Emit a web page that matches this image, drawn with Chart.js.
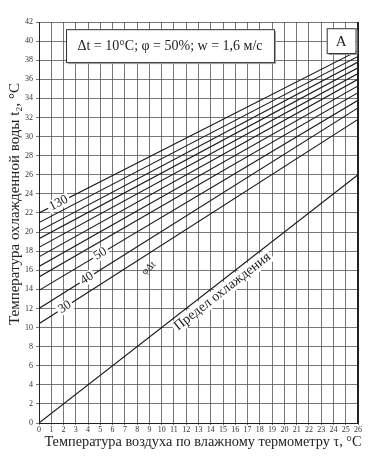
<!DOCTYPE html>
<html>
<head>
<meta charset="utf-8">
<script src="https://cdn.jsdelivr.net/npm/chart.js@4.4.1/dist/chart.umd.min.js"></script>
<style>
  html, body { margin: 0; padding: 0; background: #fff; }
</style>
</head>
<body>
<canvas id="myChart" width="377" height="469"></canvas>
<script>
// phi*dt curves: value of t2 at tau = 0 and at tau = 26
var curveNames = [30, 40, 50, 60, 70, 80, 90, 100, 110, 120, 130];
var curveStart = [10.4, 12.0, 13.9, 15.3, 16.4, 17.4, 18.4, 19.3, 20.1, 21.0, 22.0];
var curveEnd = [31.8, 33.0, 33.8, 34.6, 35.3, 36.0, 36.6, 37.2, 37.8, 38.4, 39.0];
var tauRange = [0, 26];
// cooling limit t2 = tau
var limitValues = [0, 26];
var xTicks = [0, 26, 1];
var yTicks = [0, 42, 2];

var serif = '"Liberation Serif", "DejaVu Serif", serif';

var datasets = curveNames.map(function (name, i) {
    return {
        label: String(name),
        data: [{x: tauRange[0], y: curveStart[i]}, {x: tauRange[1], y: curveEnd[i]}],
        borderColor: "#1a1a1a",
        borderWidth: 1.1,
        pointRadius: 0
    };
});
datasets.push({
    label: "Предел охлаждения",
    data: [{x: tauRange[0], y: limitValues[0]}, {x: tauRange[1], y: limitValues[1]}],
    borderColor: "#1a1a1a",
    borderWidth: 1.1,
    pointRadius: 0
});

function valueAt(i, x) {
    return curveStart[i] + (curveEnd[i] - curveStart[i]) * (x - tauRange[0]) / (tauRange[1] - tauRange[0]);
}

// where the curve numbers sit along tau
var curveLabels = [
    {index: 0, x: 2.1},
    {index: 1, x: 3.9},
    {index: 2, x: 5.0},
    {index: 10, x: 1.6}
];

function labelOnLine(ctx, text, px, py, angle, font) {
    ctx.save();
    ctx.translate(px, py);
    ctx.rotate(angle);
    ctx.font = font;
    var w = ctx.measureText(text).width;
    ctx.fillStyle = "#fff";
    ctx.fillRect(-w / 2 - 2, -6, w + 4, 12);
    ctx.fillStyle = "#222";
    ctx.textAlign = "center";
    ctx.textBaseline = "middle";
    ctx.fillText(text, 0, 0);
    ctx.restore();
}

var annotations = {
    id: "annotations",
    afterDatasetsDraw: function (chart) {
        var ctx = chart.ctx;
        var xs = chart.scales.x, ys = chart.scales.y;
        var area = chart.chartArea;

        // thicker right frame
        ctx.save();
        ctx.strokeStyle = "#222";
        ctx.lineWidth = 2;
        ctx.beginPath();
        ctx.moveTo(area.right, area.top);
        ctx.lineTo(area.right, area.bottom);
        ctx.stroke();
        ctx.restore();

        // curve numbers
        curveLabels.forEach(function (l) {
            var i = l.index;
            var px = xs.getPixelForValue(l.x);
            var py = ys.getPixelForValue(valueAt(i, l.x));
            var dx = xs.getPixelForValue(tauRange[1]) - xs.getPixelForValue(tauRange[0]);
            var dy = ys.getPixelForValue(curveEnd[i]) - ys.getPixelForValue(curveStart[i]);
            labelOnLine(ctx, String(curveNames[i]), px, py, Math.atan2(dy, dx), "13px " + serif);
        });

        // phi dt label
        ctx.save();
        ctx.translate(xs.getPixelForValue(8.95), ys.getPixelForValue(16.2));
        ctx.rotate(-0.75);
        ctx.font = "10px " + serif;
        ctx.fillStyle = "#222";
        ctx.textAlign = "center";
        ctx.textBaseline = "middle";
        ctx.fillText("φΔt", 0, 0);
        ctx.restore();

        // cooling limit label, just under its line
        var lx = 14.5;
        var ldx = xs.getPixelForValue(tauRange[1]) - xs.getPixelForValue(tauRange[0]);
        var ldy = ys.getPixelForValue(limitValues[1]) - ys.getPixelForValue(limitValues[0]);
        var ang = Math.atan2(ldy, ldx);
        var cx = xs.getPixelForValue(lx) - 9 * Math.sin(ang);
        var cy = ys.getPixelForValue(lx) + 9 * Math.cos(ang);
        ctx.save();
        ctx.translate(cx, cy);
        ctx.rotate(ang);
        ctx.font = "14px " + serif;
        var tw = ctx.measureText("Предел охлаждения").width;
        ctx.fillStyle = "#fff";
        ctx.fillRect(-tw / 2 - 2, -7, tw + 4, 14);
        ctx.fillStyle = "#222";
        ctx.textAlign = "center";
        ctx.textBaseline = "middle";
        ctx.fillText("Предел охлаждения", 0, 0);
        ctx.restore();

        // condition boxes
        function box(x0, y0, x1, y1, text, font) {
            var l = xs.getPixelForValue(x0), r = xs.getPixelForValue(x1);
            var t = ys.getPixelForValue(y0), b = ys.getPixelForValue(y1);
            ctx.save();
            ctx.fillStyle = "#fff";
            ctx.fillRect(l, t, r - l, b - t);
            ctx.strokeStyle = "#333";
            ctx.lineWidth = 1;
            ctx.strokeRect(l + 0.5, t + 0.5, r - l, b - t);
            ctx.strokeStyle = "#999";
            ctx.beginPath();
            ctx.moveTo(l + 2, b + 1.5);
            ctx.lineTo(r + 1.5, b + 1.5);
            ctx.lineTo(r + 1.5, t + 2);
            ctx.stroke();
            ctx.fillStyle = "#222";
            ctx.font = font;
            ctx.textAlign = "center";
            ctx.textBaseline = "middle";
            ctx.fillText(text, (l + r) / 2, (t + b) / 2 + 1);
            ctx.restore();
        }
        box(2.2, 41.25, 19.15, 37.8, "Δt = 10°C; φ = 50%; w = 1,6 м/с", "14px " + serif);
        box(23.45, 41.35, 25.8, 38.75, "А", "15px " + serif);

        // axis titles
        ctx.save();
        ctx.fillStyle = "#222";
        ctx.textAlign = "center";
        ctx.textBaseline = "middle";
        ctx.font = "14.3px " + serif;
        ctx.fillText("Температура воздуха по влажному термометру τ, °C", 203, 442);
        ctx.font = "15px " + serif;
        ctx.translate(15, 204);
        ctx.rotate(-Math.PI / 2);
        ctx.fillText("Температура охлажденной воды t₂, °C", 0, 0);
        ctx.restore();
    }
};

var ctx = document.getElementById("myChart").getContext("2d");
var myChart = new Chart(ctx, {
    type: "line",
    data: {datasets: datasets},
    options: {
        responsive: false,
        animation: false,
        devicePixelRatio: 1,
        layout: {padding: {top: 22, right: 19, left: 0, bottom: 0}},
        plugins: {legend: {display: false}, tooltip: {enabled: false}},
        scales: {
            x: {
                type: "linear",
                min: xTicks[0],
                max: xTicks[1],
                afterFit: function (scale) { scale.height = 46; },
                ticks: {
                    stepSize: xTicks[2],
                    autoSkip: false,
                    maxRotation: 0,
                    padding: 0,
                    color: "#333",
                    font: {family: serif, size: 8}
                },
                grid: {color: "#555", lineWidth: 0.8, tickLength: 2},
                border: {color: "#222", width: 1}
            },
            y: {
                type: "linear",
                min: yTicks[0],
                max: yTicks[1],
                afterFit: function (scale) { scale.width = 39; },
                ticks: {
                    stepSize: yTicks[2],
                    autoSkip: false,
                    padding: 3,
                    color: "#333",
                    font: {family: serif, size: 8}
                },
                grid: {color: "#555", lineWidth: 0.8, tickLength: 3},
                border: {color: "#222", width: 1}
            }
        }
    },
    plugins: [annotations]
});
</script>
</body>
</html>
